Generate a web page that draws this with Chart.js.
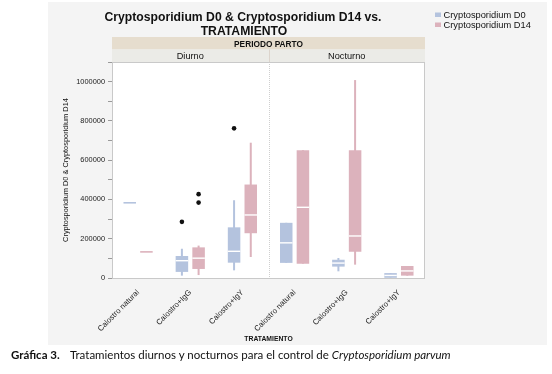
<!DOCTYPE html>
<html>
<head>
<meta charset="utf-8">
<script src="https://cdn.jsdelivr.net/npm/chart.js@4/dist/chart.umd.min.js"></script>
<style>
  html, body { margin: 0; padding: 0; background: #fff; }
  #wrap { position: relative; width: 552px; height: 374px; }
  #cap { position: absolute; top: 348px; left: 0; width: 552px; height: 16px;
         font-family: Lato, "Open Sans", sans-serif; font-size: 11.5px; color: #111; white-space: nowrap; }
  #cap .lbl { position: absolute; left: 11px; top: 0; font-weight: bold; }
  #cap .txt { position: absolute; left: 70px; top: 0; }
</style>
</head>
<body>
<div id="wrap">
  <canvas id="chart" width="552" height="374"></canvas>
  <div id="cap"><span class="lbl">Gráfica 3.</span><span class="txt">Tratamientos diurnos y nocturnos para el control de <i>Cryptosporidium parvum</i></span></div>
</div>
<script>
const treatments = ["Calostro natural", "Calostro+IgG", "Calostro+IgY",
                    "Calostro natural", "Calostro+IgG", "Calostro+IgY"];
const periods = ["Diurno", "Nocturno"];
const seriesNames = ["Cryptosporidium D0", "Cryptosporidium D14"];

// Cryptosporidium D0 (whisker low, q1, median, q3, whisker high)
const d0Min    = [383000,  12000,  39000,  77000,  34000,     0];
const d0Q1     = [383000,  31000,  78000,  77000,  58000,  1000];
const d0Median = [383000,  88000, 136000, 179000,  76000, 13000];
const d0Q3     = [383000, 112000, 258000, 281000,  93000, 25000];
const d0Max    = [383000, 149000, 396000, 281000, 102000, 25000];
const d0Outliers = [[], [286000], [762000], [], [], []];

// Cryptosporidium D14
const d14Min    = [133000,  15000, 107000,  73000,   68000, 12000];
const d14Q1     = [133000,  46000, 228000,  73000,  134000, 12000];
const d14Median = [133000, 101000, 321000, 360000,  214000, 36000];
const d14Q3     = [133000, 156000, 476000, 651000,  651000, 61000];
const d14Max    = [133000, 165000, 689000, 651000, 1008000, 61000];
const d14Outliers = [[], [427000, 384000], [], [], [], []];

const blue = "#b4c3de";
const pink = "#dcb2bc";
const FONT = "'Liberation Sans', Arial, sans-serif";

const pair = (a, b) => a.map((v, i) => [v, b[i]]);

// medians, outliers, strips, title and legend
const boxExtras = {
  id: "boxExtras",
  beforeDraw(chart) {
    const { ctx, chartArea: a } = chart;
    ctx.save();
    ctx.fillStyle = "#f4f4f4";
    ctx.fillRect(48, 2, 499, 343);
    ctx.fillStyle = "#fff";
    ctx.fillRect(a.left, a.top, a.right - a.left, a.bottom - a.top);
    // facet strips
    ctx.fillStyle = "#e6ddce";
    ctx.fillRect(a.left, a.top - 25, a.right - a.left, 12.5);
    ctx.fillStyle = "#ebebe7";
    ctx.fillRect(a.left, a.top - 12.5, a.right - a.left, 12.5);
    const mid = (a.left + a.right) / 2;
    ctx.strokeStyle = "#dcd4cc";
    ctx.lineWidth = 1;
    ctx.beginPath();
    ctx.moveTo(Math.round(mid) + 0.5, a.top - 12.5);
    ctx.lineTo(Math.round(mid) + 0.5, a.top);
    ctx.stroke();
    ctx.setLineDash([1, 1]);
    ctx.strokeStyle = "#cfcfcf";
    ctx.beginPath();
    ctx.moveTo(Math.round(mid) + 0.5, a.top);
    ctx.lineTo(Math.round(mid) + 0.5, a.bottom);
    ctx.stroke();
    ctx.setLineDash([]);
    ctx.fillStyle = "#111";
    ctx.textAlign = "center";
    ctx.textBaseline = "alphabetic";
    ctx.font = "bold 8.3px " + FONT;
    ctx.fillText("PERIODO PARTO", mid, a.top - 15);
    ctx.font = "9.2px " + FONT;
    ctx.fillText(periods[0], (a.left + mid) / 2, a.top - 3);
    ctx.fillText(periods[1], (mid + a.right) / 2, a.top - 3);

    // title
    ctx.font = "bold 12.2px " + FONT;
    ctx.fillText("Cryptosporidium D0 & Cryptosporidium D14 vs.", 243, 21);
    ctx.fillText("TRATAMIENTO", 244, 35);

    // legend
    ctx.textAlign = "left";
    ctx.font = "9.3px " + FONT;
    [blue, pink].forEach((c, k) => {
      ctx.fillStyle = c;
      ctx.fillRect(435, 12.5 + k * 10, 6, 4.5);
      ctx.fillStyle = "#111";
      ctx.fillText(seriesNames[k], 443.5, 18.3 + k * 10);
    });
    ctx.restore();
  },
  afterDatasetsDraw(chart) {
    const { ctx, chartArea: a } = chart;
    const y = chart.scales.y;
    const sets = [
      { meta: chart.getDatasetMeta(0), q1: d0Q1, q3: d0Q3, med: d0Median, out: d0Outliers, color: blue },
      { meta: chart.getDatasetMeta(1), q1: d14Q1, q3: d14Q3, med: d14Median, out: d14Outliers, color: pink }
    ];
    ctx.save();
    sets.forEach(s => {
      s.meta.data.forEach((bar, i) => {
        const flat = s.q1[i] === s.q3[i];
        const py = y.getPixelForValue(s.med[i]);
        ctx.strokeStyle = flat ? s.color : "#fff";
        ctx.lineWidth = flat ? 1.6 : 1.4;
        ctx.beginPath();
        ctx.moveTo(bar.x - bar.width / 2, py);
        ctx.lineTo(bar.x + bar.width / 2, py);
        ctx.stroke();
        ctx.fillStyle = "#111";
        s.out[i].forEach(v => {
          ctx.beginPath();
          ctx.arc(bar.x, y.getPixelForValue(v), 2.3, 0, Math.PI * 2);
          ctx.fill();
        });
      });
    });
    // plot frame
    ctx.strokeStyle = "#c9c9c9";
    ctx.lineWidth = 1;
    ctx.strokeRect(a.left + 0.5, a.top + 0.5, a.right - a.left - 1, a.bottom - a.top);
    ctx.restore();
  }
};

new Chart(document.getElementById("chart"), {
  type: "bar",
  data: {
    labels: treatments,
    datasets: [
      { label: seriesNames[0], data: pair(d0Q1, d0Q3), stack: "d0", backgroundColor: blue,
        categoryPercentage: 0.64, barPercentage: 0.75 },
      { label: seriesNames[1], data: pair(d14Q1, d14Q3), stack: "d14", backgroundColor: pink,
        categoryPercentage: 0.64, barPercentage: 0.75 },
      { label: "D0 whisker", data: pair(d0Min, d0Max), stack: "d0", backgroundColor: blue,
        categoryPercentage: 0.64, barPercentage: 0.12 },
      { label: "D14 whisker", data: pair(d14Min, d14Max), stack: "d14", backgroundColor: pink,
        categoryPercentage: 0.64, barPercentage: 0.12 }
    ]
  },
  options: {
    responsive: false,
    animation: false,
    events: [],
    devicePixelRatio: 1,
    layout: { padding: { top: 62, right: 127, bottom: 28, left: 48 } },
    plugins: { legend: { display: false }, title: { display: false }, tooltip: { enabled: false } },
    scales: {
      x: {
        grid: { display: false },
        border: { display: false },
        ticks: { autoSkip: false, minRotation: 45, maxRotation: 45, padding: 2,
                 color: "#222", font: { family: FONT, size: 7.8 } },
        title: { display: true, text: "TRATAMIENTO", color: "#111",
                 font: { family: FONT, size: 6.8, weight: "bold" }, padding: { top: 0, bottom: 2.9 } },
        afterFit(s) { s.height = 68; }
      },
      y: {
        stacked: false,
        min: 0,
        max: 1100000,
        grid: { drawOnChartArea: false, tickLength: 4, tickColor: "#9a9a9a" },
        border: { color: "#b5b5b5" },
        ticks: { stepSize: 100000, padding: 3, color: "#222", font: { family: FONT, size: 7.4 },
                 callback: v => (v % 200000 === 0 ? String(v) : "") },
        title: { display: true, text: "Cryptosporidium D0 & Cryptosporidium D14", color: "#111",
                 font: { family: FONT, size: 7.4 }, padding: { top: 13.5, bottom: 0 } },
        afterFit(s) { s.width = 64; }
      }
    }
  },
  plugins: [boxExtras]
});
</script>
</body>
</html>
